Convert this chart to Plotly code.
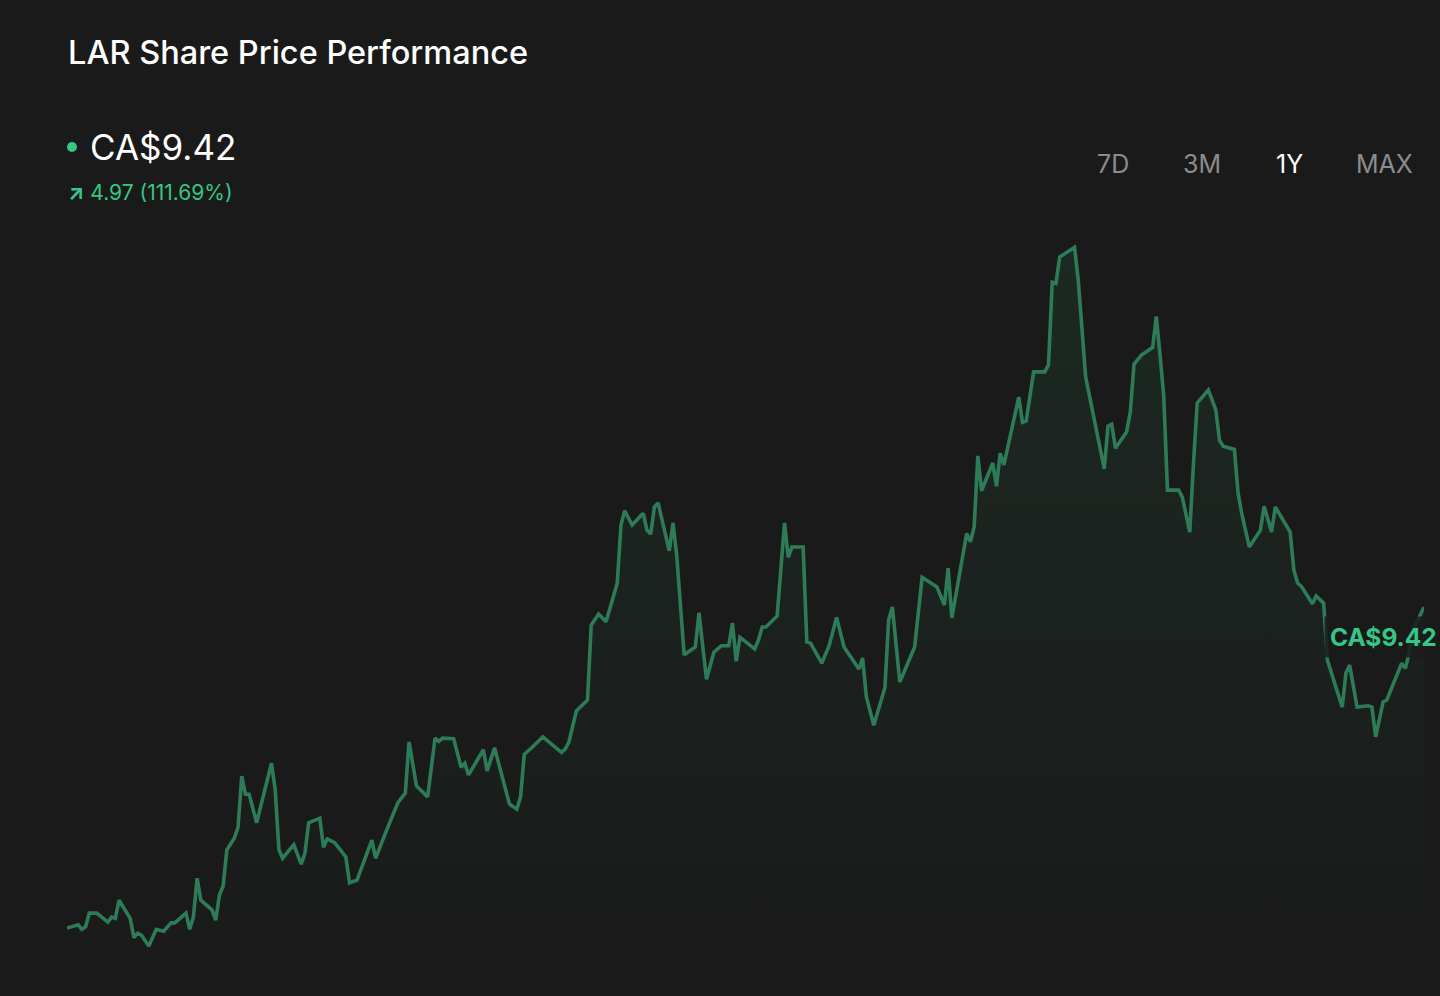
import pandas as pd
import plotly.graph_objects as go

# ---- data ----
start_date = "2024-06-03"
day_offsets = [
    0, 3, 4, 5, 6, 8, 11, 12, 13, 14, 17, 18, 19, 20, 22, 24, 26, 27, 28, 29,
    32, 33, 34, 35, 36, 39, 40, 41, 42, 43, 45, 46, 47, 48, 49, 51, 55, 56, 57, 58,
    61, 63, 64, 65, 68, 69, 70, 72, 75, 76, 78, 82, 83, 86, 89, 91, 92, 94, 97, 99,
    100, 101, 104, 106, 107, 108, 112, 113, 115, 119, 121, 122, 123, 125, 128, 133, 134, 135, 137, 140,
    141, 143, 145, 148, 149, 150, 152, 155, 156, 157, 158, 159, 162, 163, 164, 166, 169, 170, 172, 174,
    176, 178, 179, 180, 181, 185, 186, 187, 188, 191, 193, 194, 195, 198, 199, 200, 203, 205, 207, 209,
    213, 214, 215, 217, 220, 221, 222, 224, 228, 230, 234, 236, 237, 238, 242, 243, 244, 245, 246, 249,
    250, 251, 252, 256, 257, 258, 260, 263, 264, 265, 266, 267, 271, 272, 274, 279, 280, 281, 282, 285,
    286, 287, 289, 292, 293, 294, 295, 296, 299, 300, 302, 303, 304, 307, 308, 309, 310, 311, 314, 315,
    316, 318, 321, 322, 324, 325, 329, 330, 331, 332, 335, 336, 338, 339, 343, 344, 345, 347, 350, 351,
    352, 354, 355, 359, 360, 361, 362, 365,
]
prices = [
    4.45, 4.50, 4.43, 4.47, 4.68, 4.68, 4.54, 4.62, 4.60, 4.88, 4.60, 4.30, 4.37, 4.34, 4.17, 4.43, 4.40, 4.47, 4.53, 4.53,
    4.68, 4.43, 4.62, 5.22, 4.88, 4.73, 4.57, 4.96, 5.10, 5.66, 5.84, 6.01, 6.80, 6.52, 6.52, 6.08, 7.00, 6.59, 5.66, 5.53,
    5.74, 5.44, 5.61, 6.08, 6.15, 5.70, 5.83, 5.77, 5.55, 5.15, 5.19, 5.81, 5.53, 5.97, 6.39, 6.54, 7.33, 6.65, 6.48, 7.39,
    7.34, 7.39, 7.38, 6.94, 7.00, 6.82, 7.21, 6.88, 7.24, 6.37, 6.29, 6.48, 7.14, 7.24, 7.41, 7.17, 7.22, 7.33, 7.81, 7.98,
    9.14, 9.31, 9.19, 9.79, 10.69, 10.91, 10.69, 10.87, 10.61, 10.55, 10.97, 11.03, 10.29, 10.72, 10.22, 8.68, 8.80, 9.33, 8.30, 8.72,
    8.82, 8.82, 9.17, 8.58, 8.95, 8.77, 8.91, 9.11, 9.11, 9.28, 10.72, 10.19, 10.35, 10.35, 8.88, 8.86, 8.55, 8.82, 9.26, 8.80,
    8.46, 8.63, 8.03, 7.59, 8.17, 9.22, 9.42, 8.26, 8.80, 9.88, 9.73, 9.45, 10.02, 9.25, 10.56, 10.43, 10.66, 11.76, 11.22, 11.65,
    11.29, 11.80, 11.62, 12.67, 12.28, 12.30, 13.06, 13.06, 13.17, 14.45, 14.43, 14.84, 14.99, 14.48, 12.98, 11.56, 12.22, 12.25, 11.88, 12.13,
    12.44, 13.18, 13.32, 13.44, 13.92, 13.32, 12.69, 11.23, 11.23, 11.12, 10.58, 11.65, 12.58, 12.78, 12.61, 12.47, 12.00, 11.91, 11.86, 11.18,
    10.86, 10.35, 10.61, 10.98, 10.58, 10.97, 10.58, 9.99, 9.79, 9.74, 9.47, 9.59, 9.48, 8.60, 7.87, 8.40, 8.52, 7.87, 7.89, 7.87,
    7.41, 7.95, 7.98, 8.55, 8.47, 8.71, 9.06, 9.42,
]
title_text = "LAR Share Price Performance"
currency = "CA$"
change_abs = 4.97
change_pct = 111.69
periods = ["7D", "3M", "1Y", "MAX"]
active_period = "1Y"

# ---- build ----
dates = pd.Timestamp(start_date) + pd.to_timedelta(day_offsets, unit="D")
last_price = prices[-1]

W, H = 1440, 996
ML, MR, MT, MB = 67, 16, 100, 6
plot_w = W - ML - MR
plot_h = H - MT - MB

def px_x(px):
    return (px - ML) / plot_w

def px_y(py):
    return (H - MB - py) / plot_h

BG = "#1a1a1a"
LINE = "#2e7b58"
GREEN = "#36c685"
FONT = "Inter"

fig = go.Figure()
fig.add_trace(go.Scatter(
    x=dates, y=prices, mode="lines",
    line=dict(color=LINE, width=3.6),
    fill="tozeroy",
    fillgradient=dict(
        type="vertical",
        colorscale=[[0, "rgba(46,140,95,0.0)"], [1, "rgba(46,140,95,0.13)"]],
        start=3.5, stop=15.0,
    ),
    hoverinfo="skip", showlegend=False,
))

fig.update_layout(
    width=W, height=H,
    margin=dict(l=ML, r=MR, t=MT, b=MB),
    paper_bgcolor=BG, plot_bgcolor=BG,
    font=dict(family=FONT, color="white"),
    xaxis=dict(visible=False, range=[dates[0], dates[-1]]),
    yaxis=dict(visible=False, range=[3.49, 17.27]),
    showlegend=False,
)

annotations = [
    dict(text=title_text, x=px_x(66), y=px_y(53), xref="paper", yref="paper",
         xanchor="left", yanchor="middle", showarrow=False,
         font=dict(size=32.5, color="white", family=FONT, weight=500)),
    dict(text=f"{currency}{last_price:.2f}", x=px_x(88), y=px_y(147), xref="paper", yref="paper",
         xanchor="left", yanchor="middle", showarrow=False,
         font=dict(size=35, color="white", family=FONT)),
    dict(text=f"<b>↗</b> {change_abs:.2f} ({change_pct:.2f}%)", x=px_x(66), y=px_y(192), xref="paper", yref="paper",
         xanchor="left", yanchor="middle", showarrow=False,
         font=dict(size=21, color=GREEN, family=FONT)),
    dict(text=f"<b>{currency}{last_price:.2f}</b>", x=dates[-1], y=last_price, xref="x", yref="y",
         xanchor="left", yanchor="middle", xshift=-100, yshift=-30, showarrow=False,
         bgcolor="rgba(26,28,27,0.85)", borderpad=5,
         font=dict(size=24.5, color=GREEN, family=FONT)),
]
btn_centers = [1113, 1202, 1289, 1384]
for lab, cx in zip(periods, btn_centers):
    annotations.append(dict(
        text=lab, x=px_x(cx), y=px_y(164), xref="paper", yref="paper",
        xanchor="center", yanchor="middle", showarrow=False,
        font=dict(size=25, color="white" if lab == active_period else "#8c8c8c", family=FONT)))
fig.update_layout(annotations=annotations)

fig.add_shape(type="circle", xref="paper", yref="paper",
              xsizemode="pixel", ysizemode="pixel",
              xanchor=px_x(72), yanchor=px_y(147),
              x0=-5, x1=5, y0=-5, y1=5,
              fillcolor=GREEN, line=dict(width=0))

fig.write_html("out.html", config={"displayModeBar": False},
               post_script="document.body.style.margin='0';")
